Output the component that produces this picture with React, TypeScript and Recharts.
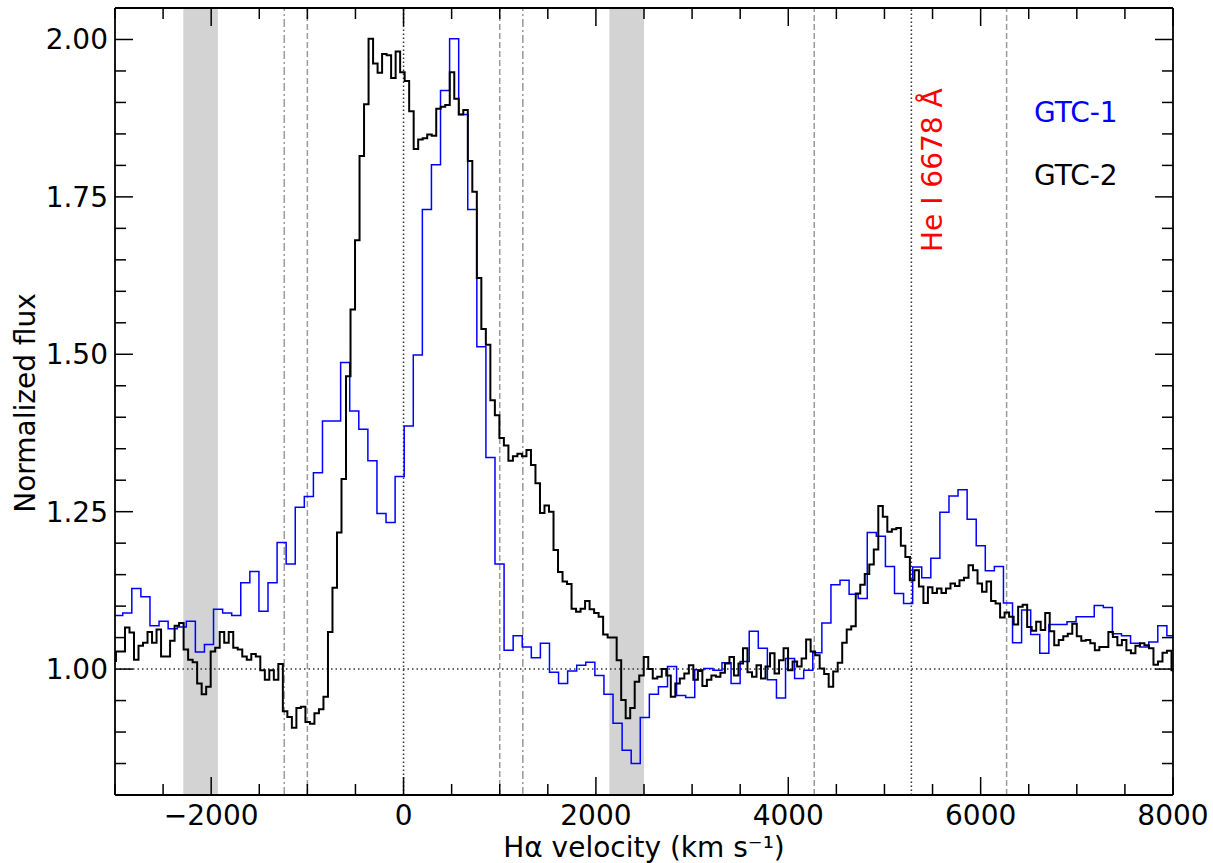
import {
  ComposedChart,
  Line,
  ReferenceArea,
  ReferenceLine,
  XAxis,
  YAxis,
} from "recharts";

// GTC-1 spectrum (coarser bins), flux per velocity bin
const gtc1Start = -3014;
const gtc1Bin = 94.4;
const gtc1Flux = [
  1.085, 1.089, 1.128, 1.115, 1.069, 1.076, 1.064, 1.067, 1.076, 1.027,
  1.039, 1.095, 1.089, 1.085, 1.137, 1.155, 1.092, 1.137, 1.201, 1.167,
  1.257, 1.274, 1.312, 1.394, 1.394, 1.487, 1.41, 1.381, 1.331, 1.247,
  1.233, 1.306, 1.386, 1.499, 1.73, 1.801, 1.919, 2.001, 1.881, 1.73,
  1.512, 1.336, 1.167, 1.03, 1.053, 1.035, 1.018, 1.041, 0.995, 0.977,
  0.997, 1.006, 1.011, 0.99, 0.96, 0.914, 0.871, 0.85, 0.923, 0.96,
  0.972, 1.004, 0.958, 0.955, 0.999, 1.001, 0.998, 1.01, 0.977, 1.012,
  1.06, 1.033, 0.983, 0.954, 1.017, 0.985, 0.998, 1.026, 1.073, 1.134,
  1.141, 1.119, 1.112, 1.217, 1.211, 1.163, 1.12, 1.104, 1.162, 1.145,
  1.176, 1.249, 1.275, 1.285, 1.238, 1.196, 1.156, 1.163, 1.105, 1.042,
  1.094, 1.055, 1.025, 1.071, 1.071, 1.075, 1.083, 1.083, 1.101, 1.098,
  1.056, 1.053, 1.041, 1.035, 1.043, 1.069, 1.053,
];

// GTC-2 spectrum (finer bins)
const gtc2Start = -3037;
const gtc2Bin = 46.9;
const gtc2Flux = [
  1.013, 1.028, 1.028, 1.066, 1.058, 1.015, 1.037, 1.042, 1.059, 1.042,
  1.063, 1.02, 1.02, 1.045, 1.069, 1.073, 1.031, 1.015, 1.011, 0.977,
  0.96, 0.972, 1.028, 1.034, 1.059, 1.042, 1.059, 1.034, 1.031, 1.02,
  1.015, 1.024, 1.02, 0.998, 0.983, 0.998, 0.983, 1.008, 0.933, 0.924,
  0.907, 0.938, 0.94, 0.916, 0.913, 0.93, 0.936, 0.956, 1.059, 1.129,
  1.217, 1.302, 1.465, 1.571, 1.681, 1.815, 1.897, 2.001, 1.962, 1.947,
  1.977, 1.975, 1.939, 1.981, 1.948, 1.934, 1.886, 1.826, 1.841, 1.843,
  1.849, 1.847, 1.89, 1.893, 1.896, 1.948, 1.906, 1.881, 1.888, 1.807,
  1.758, 1.621, 1.54, 1.515, 1.427, 1.403, 1.367, 1.355, 1.331, 1.338,
  1.342, 1.338, 1.348, 1.324, 1.295, 1.248, 1.26, 1.25, 1.189, 1.154,
  1.139, 1.135, 1.096, 1.091, 1.096, 1.108, 1.095, 1.089, 1.083, 1.055,
  1.05, 1.05, 1.014, 0.951, 0.922, 0.938, 0.98, 0.99, 1.019, 1.0,
  0.985, 0.988, 1.0, 0.99, 0.956, 0.977, 0.985, 0.993, 1.006, 0.983,
  0.997, 0.973, 0.983, 0.99, 0.988, 0.994, 1.009, 1.019, 0.99, 1.009,
  1.033, 0.995, 0.988, 1.006, 0.985, 1.004, 1.025, 0.993, 1.014, 1.033,
  0.998, 1.012, 1.004, 1.017, 1.047, 1.028, 1.022, 1.001, 0.992, 0.972,
  0.996, 1.01, 1.042, 1.063, 1.068, 1.12, 1.134, 1.151, 1.166, 1.19,
  1.259, 1.242, 1.218, 1.222, 1.224, 1.196, 1.178, 1.141, 1.157, 1.131,
  1.105, 1.13, 1.121, 1.128, 1.121, 1.128, 1.136, 1.132, 1.141, 1.145,
  1.165, 1.157, 1.136, 1.123, 1.139, 1.108, 1.104, 1.082, 1.09, 1.083,
  1.071, 1.099, 1.102, 1.067, 1.061, 1.075, 1.062, 1.089, 1.06, 1.038,
  1.046, 1.052, 1.056, 1.072, 1.052, 1.045, 1.046, 1.041, 1.03, 1.035,
  1.035, 1.059, 1.051, 1.038, 1.046, 1.03, 1.025, 1.037, 1.041, 1.038,
  1.033, 1.007, 1.012, 1.026, 1.029, 0.998,
];

const xTicks = [
  -3000, -2500, -2000, -1500, -1000, -500, 0, 500, 1000, 1500, 2000, 2500,
  3000, 3500, 4000, 4500, 5000, 5500, 6000, 6500, 7000, 7500, 8000,
];
const xLabelled = [-2000, 0, 2000, 4000, 6000, 8000];
const yTicks = [
  0.8, 0.85, 0.9, 0.95, 1.0, 1.05, 1.1, 1.15, 1.2, 1.25, 1.3, 1.35, 1.4,
  1.45, 1.5, 1.55, 1.6, 1.65, 1.7, 1.75, 1.8, 1.85, 1.9, 1.95, 2.0, 2.05,
];
const yLabelled = [1.0, 1.25, 1.5, 1.75, 2.0];

// masked telluric regions and marker velocities
const maskedBands = [
  [-2290, -1930],
  [2140, 2500],
];
const dashedMarks = [-1000, 1000, 4270, 6270];
const dashDotMarks = [-1240, 1240];
const dottedMarks = [0, 5280];
const continuum = 1.0;

const FONT = "DejaVu Sans, sans-serif";
const MAJOR = 18;
const MINOR = 11;

function toSteps(start: number, bin: number, flux: number[]) {
  const pts = flux.map((f, i) => ({ v: start + i * bin, f }));
  pts.push({ v: start + flux.length * bin, f: flux[flux.length - 1] });
  return pts;
}

const gtc1 = toSteps(gtc1Start, gtc1Bin, gtc1Flux);
const gtc2 = toSteps(gtc2Start, gtc2Bin, gtc2Flux);

const isMajorX = (v: number) => xLabelled.includes(v);
const isMajorY = (v: number) => yLabelled.some((m) => Math.abs(m - v) < 1e-6);
const fmtX = (v: number) => (v < 0 ? "\u2212" + Math.abs(v) : String(v));

function BottomTick(props: any) {
  const { x, y, payload } = props;
  const major = isMajorX(payload.value);
  return (
    <g>
      <line x1={x} x2={x} y1={y} y2={y - (major ? MAJOR : MINOR)} stroke="#000" strokeWidth={1.5} />
      {major && (
        <text x={x} y={y + 30} textAnchor="middle" fontSize={28} fontFamily={FONT} fill="#000">
          {fmtX(payload.value)}
        </text>
      )}
    </g>
  );
}

function TopTick(props: any) {
  const { x, y, payload } = props;
  const major = isMajorX(payload.value);
  return <line x1={x} x2={x} y1={y} y2={y + (major ? MAJOR : MINOR)} stroke="#000" strokeWidth={1.5} />;
}

function LeftTick(props: any) {
  const { x, y, payload } = props;
  const major = isMajorY(payload.value);
  return (
    <g>
      <line x1={x} x2={x + (major ? MAJOR : MINOR)} y1={y} y2={y} stroke="#000" strokeWidth={1.5} />
      {major && (
        <text x={x - 7} y={y + 10} textAnchor="end" fontSize={28} fontFamily={FONT} fill="#000">
          {payload.value.toFixed(2)}
        </text>
      )}
    </g>
  );
}

function RightTick(props: any) {
  const { x, y, payload } = props;
  const major = isMajorY(payload.value);
  return <line x1={x} x2={x - (major ? MAJOR : MINOR)} y1={y} y2={y} stroke="#000" strokeWidth={1.5} />;
}

const axisLine = { stroke: "#000", strokeWidth: 1.8 };

export default function App() {
  return (
    <div style={{ position: "relative", width: 1213, height: 863, fontFamily: FONT }}>
      <style>{`body{margin:0}`}</style>
      <ComposedChart width={1213} height={863} margin={{ top: 7, right: 39, bottom: 0, left: 0 }}>
        <XAxis
          xAxisId="b"
          dataKey="v"
          type="number"
          orientation="bottom"
          domain={[-3000, 8000]}
          allowDataOverflow
          ticks={xTicks}
          interval={0}
          tickSize={0}
          tickMargin={0}
          tickLine={false}
          tick={(p: any) => <BottomTick {...p} />}
          axisLine={axisLine}
          height={68}
        />
        <XAxis
          xAxisId="t"
          dataKey="v"
          type="number"
          orientation="top"
          domain={[-3000, 8000]}
          allowDataOverflow
          ticks={xTicks}
          interval={0}
          tickSize={0}
          tickMargin={0}
          tickLine={false}
          tick={(p: any) => <TopTick {...p} />}
          axisLine={axisLine}
          height={1}
        />
        <YAxis
          yAxisId="l"
          type="number"
          domain={[0.8, 2.05]}
          allowDataOverflow
          ticks={yTicks}
          interval={0}
          tickSize={0}
          tickMargin={0}
          tickLine={false}
          tick={(p: any) => <LeftTick {...p} />}
          axisLine={axisLine}
          width={115}
        />
        <YAxis
          yAxisId="r"
          type="number"
          orientation="right"
          domain={[0.8, 2.05]}
          allowDataOverflow
          ticks={yTicks}
          interval={0}
          tickSize={0}
          tickMargin={0}
          tickLine={false}
          tick={(p: any) => <RightTick {...p} />}
          axisLine={axisLine}
          width={1}
        />

        {maskedBands.map(([a, b]) => (
          <ReferenceArea
            key={a}
            xAxisId="b"
            yAxisId="l"
            x1={a}
            x2={b}
            fill="#d3d3d3"
            fillOpacity={1}
            stroke="none"
          />
        ))}
        {dashedMarks.map((v) => (
          <ReferenceLine key={v} xAxisId="b" yAxisId="l" x={v} stroke="#9a9a9a" strokeWidth={1.5} strokeDasharray="6 3" />
        ))}
        {dashDotMarks.map((v) => (
          <ReferenceLine key={v} xAxisId="b" yAxisId="l" x={v} stroke="#9a9a9a" strokeWidth={1.5} strokeDasharray="8 3 2 3" />
        ))}
        {dottedMarks.map((v) => (
          <ReferenceLine key={v} xAxisId="b" yAxisId="l" x={v} stroke="#333" strokeWidth={1.5} strokeDasharray="1.5 2.5" />
        ))}
        <ReferenceLine xAxisId="b" yAxisId="l" y={continuum} stroke="#333" strokeWidth={1.5} strokeDasharray="1.5 3" />

        <Line
          xAxisId="b"
          yAxisId="l"
          data={gtc1}
          dataKey="f"
          type="stepAfter"
          stroke="#0000ff"
          strokeWidth={1.5}
          dot={false}
          isAnimationActive={false}
        />
        <Line
          xAxisId="b"
          yAxisId="l"
          data={gtc2}
          dataKey="f"
          type="stepAfter"
          stroke="#000"
          strokeWidth={2}
          dot={false}
          isAnimationActive={false}
        />
      </ComposedChart>

      <svg
        width={1213}
        height={863}
        style={{ position: "absolute", left: 0, top: 0, pointerEvents: "none" }}
        fontFamily={FONT}
      >
        <text x={644} y={857} textAnchor="middle" fontSize={28} fill="#000">
          Hα velocity (km s⁻¹)
        </text>
        <text x={35} y={403} textAnchor="middle" fontSize={28} fill="#000" transform="rotate(-90 35 403)">
          Normalized flux
        </text>
        <text x={942} y={252} fontSize={28} fill="#ff0000" transform="rotate(-90 942 252)">
          He I 6678 Å
        </text>
        <text x={1034} y={122} fontSize={28} fill="#0000ff">
          GTC-1
        </text>
        <text x={1034} y={185} fontSize={28} fill="#000">
          GTC-2
        </text>
      </svg>
    </div>
  );
}
